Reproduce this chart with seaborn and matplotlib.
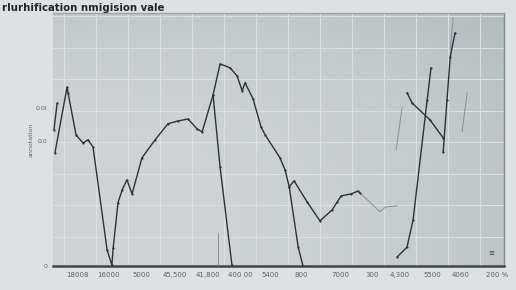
import numpy as np
import pandas as pd
import matplotlib
matplotlib.use("Agg")
import matplotlib.pyplot as plt
import seaborn as sns

# ---- data ----
title = "rlurhification nmigision vale"
x_tick_pos = [0.75, 1.72, 2.75, 3.81, 4.84, 5.84, 6.78, 7.75, 8.97, 9.97, 10.84, 11.84, 12.75, 13.88]
x_tick_labels = ["18008", "16000", "5000", "45,500", "41,800", "400 00", "5400",
                 "800", "7000", "300", "4,300", "5500", "4060", "200 %"]
y_tick_pos = [0.0, 3.91, 4.94]
y_tick_labels = ["0", "0.0", "0.0l"]

main_x = [0.06, 0.44, 0.47, 0.72, 0.94, 1.09, 1.25, 1.69, 1.84, 1.88, 2.03, 2.16, 2.31, 2.47,
          2.78, 3.19, 3.59, 3.91, 4.22, 4.50, 4.66, 5.00, 5.22, 5.53, 5.75, 5.91, 6.00, 6.25,
          6.50, 6.63, 7.09, 7.25, 7.38, 7.53, 7.94, 8.34, 8.72, 8.88, 9.00, 9.31, 9.53, 9.59]
main_y = [3.53, 5.59, 5.41, 4.09, 3.84, 3.94, 3.72, 0.50, 0.03, 0.56, 1.97, 2.38, 2.69, 2.25,
          3.38, 3.94, 4.44, 4.53, 4.59, 4.28, 4.19, 5.34, 6.31, 6.19, 5.94, 5.47, 5.72, 5.22,
          4.34, 4.09, 3.38, 3.00, 2.47, 2.66, 2.00, 1.41, 1.75, 2.00, 2.19, 2.25, 2.34, 2.28]
tail_x = [9.59, 10.22, 10.38, 10.75]
tail_y = [2.28, 1.69, 1.84, 1.88]
start_x = [0.03, 0.13]
start_y = [4.25, 5.09]
drop1_x = [5.00, 5.22, 5.59]
drop1_y = [5.34, 3.09, 0.03]
drop2_x = [7.38, 7.66, 7.81]
drop2_y = [2.47, 0.59, 0.0]
rightA_x = [11.06, 11.22, 11.78, 12.19]
rightA_y = [5.41, 5.09, 4.56, 4.00]
rightB_x = [10.75, 11.06, 11.25, 11.69, 11.81]
rightB_y = [0.28, 0.59, 1.44, 5.19, 6.19]
rightC_x = [12.19, 12.31, 12.41, 12.56]
rightC_y = [3.56, 5.19, 6.53, 7.28]
faint1_x = [10.72, 10.91]
faint1_y = [3.63, 4.97]
faint2_x = [12.78, 12.94]
faint2_y = [4.19, 5.41]
faint3_x = [5.16, 5.16]
faint3_y = [1.03, 0.03]
faint4_x = [12.41, 12.50]
faint4_y = [6.75, 7.75]

dark = [("main", main_x, main_y), ("start", start_x, start_y), ("drop1", drop1_x, drop1_y),
        ("drop2", drop2_x, drop2_y), ("rightA", rightA_x, rightA_y),
        ("rightB", rightB_x, rightB_y), ("rightC", rightC_x, rightC_y)]
light = [("tail", tail_x, tail_y), ("faint1", faint1_x, faint1_y), ("faint2", faint2_x, faint2_y),
         ("faint3", faint3_x, faint3_y), ("faint4", faint4_x, faint4_y)]

sns.set_theme(style="whitegrid")
plt.rcParams['font.family'] = ['DejaVu Sans']

fig = plt.figure(figsize=(5.16, 2.90), dpi=100)
fig.patch.set_facecolor("#dce2e4")
ax = fig.add_axes([53/516, 24/290, 451/516, 253/290])
ax.set_xlim(0, 14.09)
ax.set_ylim(0, 7.9)
ax.set_facecolor("#c9d1d2")

# subtle background gradient (darker toward top and right)
gx = np.linspace(0, 1, 200)
gy = np.linspace(0, 1, 100)
GX, GY = np.meshgrid(gx, gy)
shade = 0.45 * GX ** 3 + 0.35 * GY ** 4
ax.imshow(shade, extent=[0, 14.09, 0, 7.9], origin="lower", aspect="auto",
          cmap=matplotlib.colors.LinearSegmentedColormap.from_list("bg", ["#ccd4d5", "#a9b5b7"]),
          vmin=0, vmax=1, zorder=0)

for name, xs, ys in light:
    df = pd.DataFrame({"x": xs, "y": ys})
    sns.lineplot(data=df, x="x", y="y", sort=False, estimator=None, ax=ax,
                 color="#869194", linewidth=0.7, zorder=3)
for name, xs, ys in dark:
    df = pd.DataFrame({"x": xs, "y": ys})
    sns.lineplot(data=df, x="x", y="y", sort=False, estimator=None, ax=ax,
                 color="#2a3437", linewidth=1.0, marker="o", markersize=1.6,
                 markeredgewidth=0, zorder=4)

ax.set_xticks(x_tick_pos)
ax.set_xticklabels(x_tick_labels)
ax.set_xticks(np.arange(0.34, 14.09, 1.0), minor=True)
ax.set_yticks(y_tick_pos)
ax.set_yticklabels(y_tick_labels)
ax.set_yticks(np.arange(0.91, 7.9, 0.985), minor=True)
ax.grid(False, which="major")
ax.grid(True, which="minor", color="#dbe1e2", linewidth=0.8)
ax.tick_params(axis="x", which="major", labelsize=5, colors="#5a6366", length=0, pad=4)
ax.tick_params(axis="y", which="major", labelsize=4.5, colors="#5a6366", length=0, pad=4)
ax.tick_params(which="minor", length=0)
ax.set_xlabel("")
ax.set_ylabel("annotation", fontsize=4.5, color="#5a6366", labelpad=2)

ax.spines["left"].set_visible(False)
ax.spines["bottom"].set_color("#3d4649")
ax.spines["bottom"].set_linewidth(1.8)
ax.spines["right"].set_color("#7e898c")
ax.spines["right"].set_linewidth(1.0)
ax.spines["top"].set_color("#9aa5a7")
ax.spines["top"].set_linewidth(1.0)

ax.text(13.69, 0.41, "≡", fontsize=5, color="#333b3e", ha="center", va="center")
fig.text(0.004, 0.99, title, fontsize=7.3, fontweight="semibold", color="#1f2629",
         ha="left", va="top")

fig.savefig("out.png", dpi=100, facecolor=fig.get_facecolor())
